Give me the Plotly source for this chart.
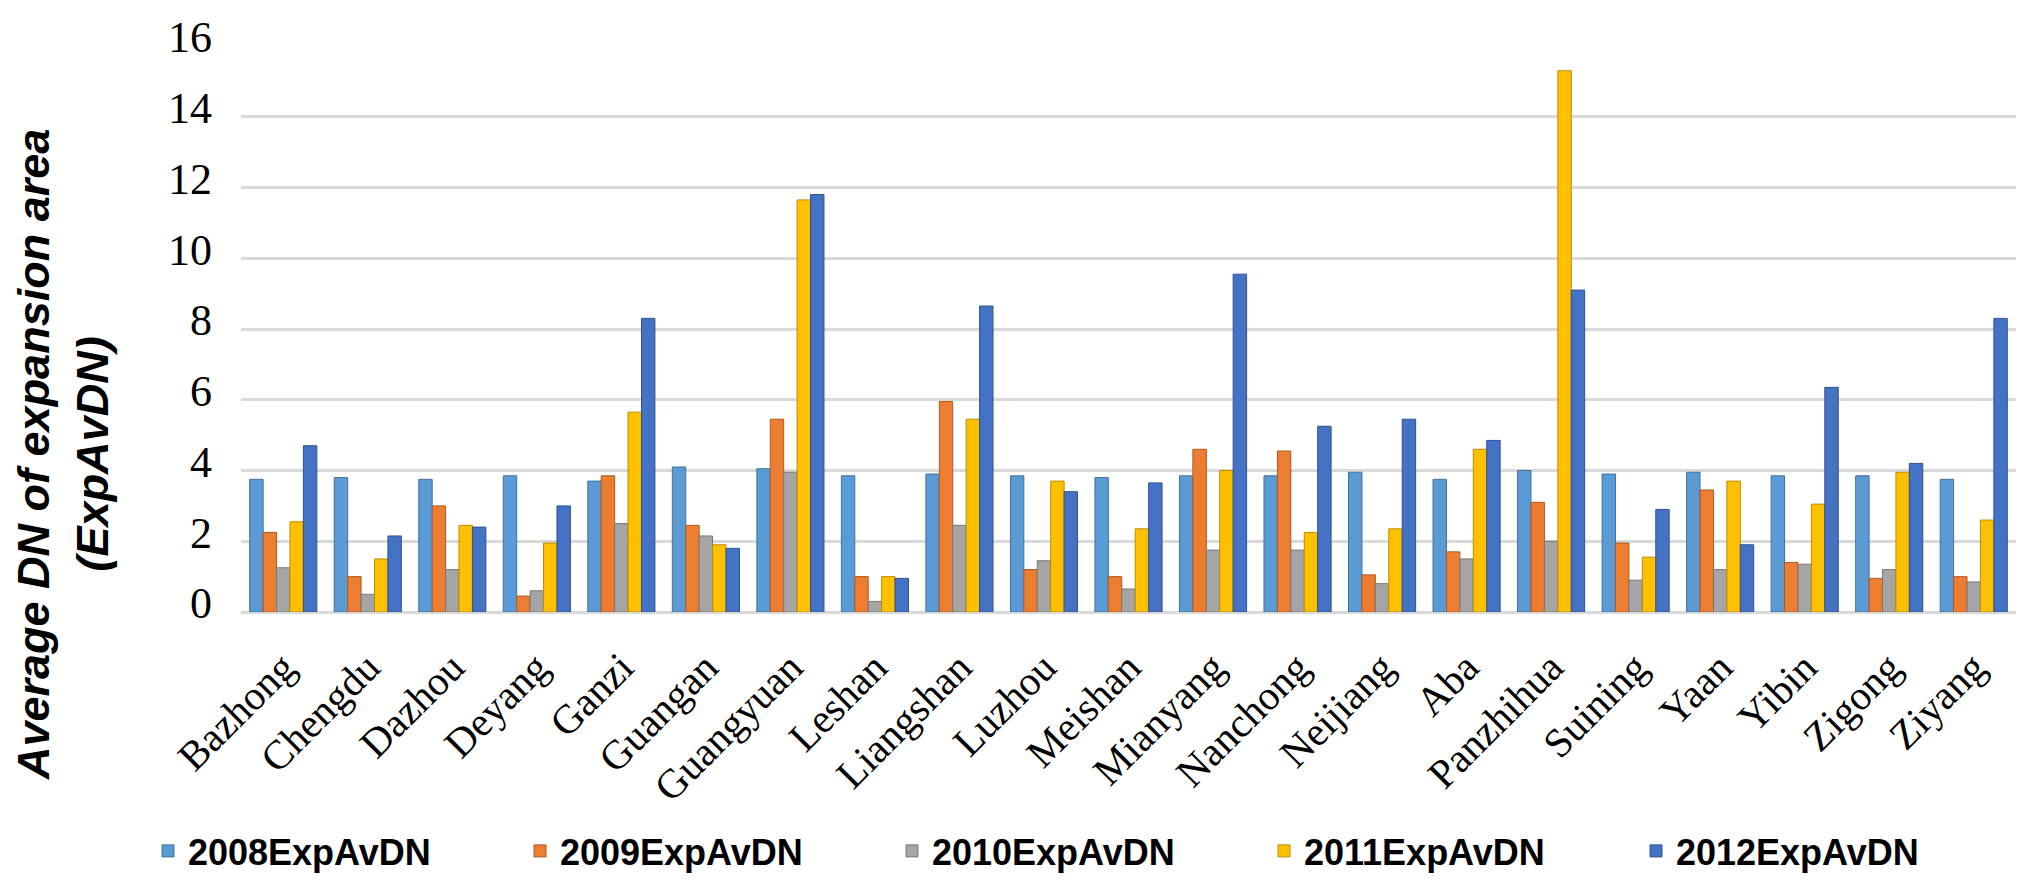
import plotly.graph_objects as go

cities = ["Bazhong", "Chengdu", "Dazhou", "Deyang", "Ganzi", "Guangan", "Guangyuan",
          "Leshan", "Liangshan", "Luzhou", "Meishan", "Mianyang", "Nanchong", "Neijiang",
          "Aba", "Panzhihua", "Suining", "Yaan", "Yibin", "Zigong", "Ziyang"]

v2008 = [3.75, 3.8, 3.75, 3.85, 3.7, 4.1, 4.05, 3.85, 3.9, 3.85, 3.8, 3.85, 3.85, 3.95, 3.75, 4.0, 3.9, 3.95, 3.85, 3.85, 3.75]
v2009 = [2.25, 1.0, 3.0, 0.45, 3.85, 2.45, 5.45, 1.0, 5.95, 1.2, 1.0, 4.6, 4.55, 1.05, 1.7, 3.1, 1.95, 3.45, 1.4, 0.95, 1.0]
v2010 = [1.25, 0.5, 1.2, 0.6, 2.5, 2.15, 3.95, 0.3, 2.45, 1.45, 0.65, 1.75, 1.75, 0.8, 1.5, 2.0, 0.9, 1.2, 1.35, 1.2, 0.85]
v2011 = [2.55, 1.5, 2.45, 1.95, 5.65, 1.9, 11.65, 1.0, 5.45, 3.7, 2.35, 4.0, 2.25, 2.35, 4.6, 15.3, 1.55, 3.7, 3.05, 3.95, 2.6]
v2012 = [4.7, 2.15, 2.4, 3.0, 8.3, 1.8, 11.8, 0.95, 8.65, 3.4, 3.65, 9.55, 5.25, 5.45, 4.85, 9.1, 2.9, 1.9, 6.35, 4.2, 8.3]

series_names = ["2008ExpAvDN", "2009ExpAvDN", "2010ExpAvDN", "2011ExpAvDN", "2012ExpAvDN"]
series_values = [v2008, v2009, v2010, v2011, v2012]
colors = ["#5B9BD5", "#ED7D31", "#A5A5A5", "#FFC000", "#4472C4"]
edges = ["#41719C", "#AE5A21", "#787878", "#BC8C00", "#2F528F"]

y_ticks = [0, 2, 4, 6, 8, 10, 12, 14, 16]

W, H = 2027, 884
legend_ids = ["legend", "legend2", "legend3", "legend4", "legend5"]

fig = go.Figure()
for name, vals, c, e, lid in zip(series_names, series_values, colors, edges, legend_ids):
    fig.add_trace(go.Bar(
        x=cities, y=vals, name=name, legend=lid,
        marker=dict(color=c, line=dict(color=e, width=1)),
    ))

legend_font = dict(family="Liberation Sans, Arial, sans-serif", size=36, color="black", weight="bold")
legends = {}
for k, lid in enumerate(legend_ids):
    legends[lid] = dict(
        orientation="h", xref="container", yref="container",
        x=(140 + 372 * k) / W, y=1 - 843 / H, xanchor="left", yanchor="middle",
        font=legend_font, bgcolor="rgba(0,0,0,0)", borderwidth=0,
    )

fig.update_layout(
    width=W, height=H,
    margin=dict(l=233, r=19, t=38, b=280, autoexpand=False),
    paper_bgcolor="white", plot_bgcolor="white",
    barmode="group", bargap=0.206, bargroupgap=0,
    showlegend=True,
    xaxis=dict(
        type="category", tickangle=-45,
        tickfont=dict(family="Liberation Serif, Times New Roman, serif", size=41, color="black"),
        showgrid=False, showline=False, ticks="", ticklabelstandoff=22,
    ),
    yaxis=dict(
        range=[0, 16], tickvals=y_ticks,
        tickfont=dict(family="Liberation Serif, Times New Roman, serif", size=44, color="black"),
        showgrid=True, gridcolor="#D9D9D9", gridwidth=3,
        zeroline=True, zerolinecolor="#D9D9D9", zerolinewidth=3,
        showline=False, ticks="", ticklabelstandoff=28, ticklabelshift=-9,
    ),
    **legends,
)

title_font = dict(family="Liberation Sans, Arial, sans-serif", size=45, color="black", weight="bold", style="italic")
fig.add_annotation(text="Average DN of expansion area<br>(ExpAvDN)", xref="paper", yref="paper",
                   x=(55 - 233) / (W - 233 - 19), y=(604 - 447) / (604 - 38),
                   xanchor="center", yanchor="middle", align="center",
                   textangle=-90, showarrow=False, font=title_font)

fig.write_html("out.html")
